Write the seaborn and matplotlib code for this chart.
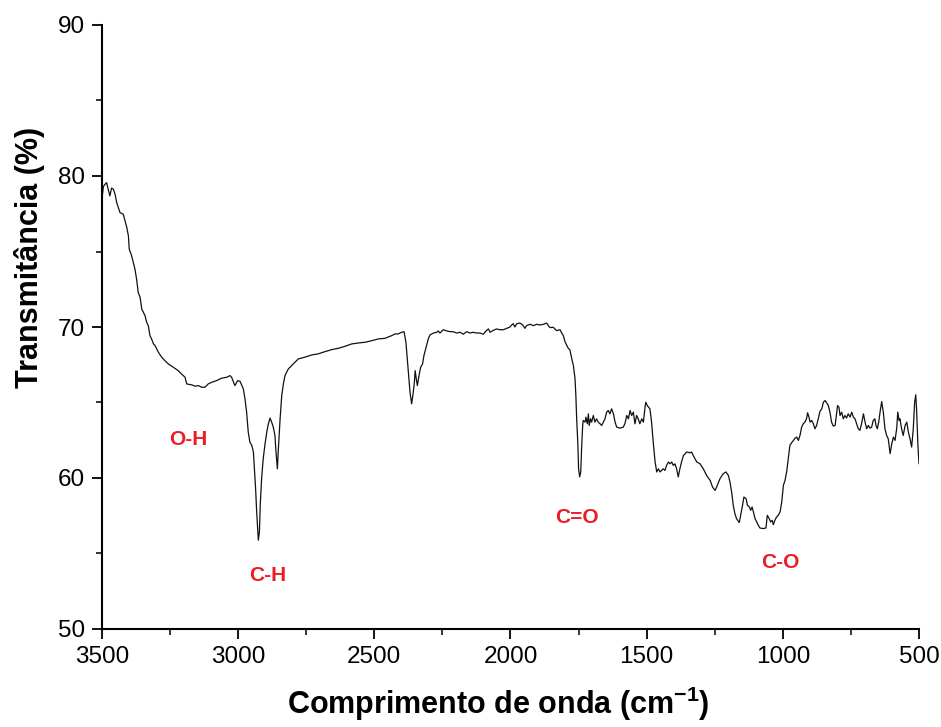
import matplotlib
matplotlib.use("Agg")
import matplotlib.pyplot as plt
from matplotlib.ticker import MultipleLocator
import numpy as np
import pandas as pd
import seaborn as sns

# FTIR spectrum, wavenumber (cm-1) vs transmittance (%), split by region
wn_oh = [3498, 3495, 3489, 3483, 3477, 3471, 3465, 3458, 3452, 3446,
         3434, 3422, 3409, 3403, 3400, 3391, 3379, 3373, 3367, 3360,
         3354, 3342, 3336, 3330, 3324, 3318, 3311, 3305, 3293, 3281,
         3269, 3256, 3238, 3220, 3208, 3195, 3189, 3171, 3158, 3146,
         3134, 3122, 3110, 3097, 3079, 3061, 3042, 3030, 3024, 3012,
         3002]
t_oh = [78.80, 79.30, 79.45, 79.56, 79.10, 78.68, 79.20, 79.12, 78.79, 78.24,
        77.58, 77.47, 76.59, 76.03, 75.16, 74.71, 73.83, 73.17, 72.29, 71.96,
        71.19, 70.75, 70.31, 70.09, 69.43, 69.21, 68.88, 68.76, 68.33, 68.00,
        67.77, 67.55, 67.33, 67.11, 66.89, 66.67, 66.23, 66.17, 66.08, 66.12,
        66.01, 66.01, 66.23, 66.34, 66.45, 66.61, 66.67, 66.78, 66.67, 66.12,
        66.45]

wn_ch = [2993, 2987, 2981, 2975, 2969, 2963, 2957, 2950, 2944, 2941,
         2936, 2932, 2928, 2926, 2922, 2919, 2914, 2908, 2902, 2895,
         2889, 2883, 2877, 2871, 2865, 2861, 2856, 2853, 2846, 2840,
         2834, 2828]
t_ch = [66.40, 66.15, 65.90, 65.24, 64.36, 63.04, 62.38, 62.16, 61.72, 60.83,
        59.29, 57.75, 56.43, 55.88, 56.43, 58.19, 59.95, 61.28, 62.16, 63.04,
        63.59, 63.97, 63.70, 63.37, 62.82, 61.72, 60.61, 61.72, 63.92, 65.46,
        66.23, 66.78]

wn_base = [2816, 2804, 2791, 2779, 2755, 2730, 2706, 2681, 2657, 2632,
           2608, 2583, 2559, 2534, 2510, 2485, 2461, 2436, 2424, 2412,
           2400, 2391]
t_base = [67.22, 67.44, 67.67, 67.89, 68.00, 68.15, 68.22, 68.37, 68.50, 68.59,
          68.72, 68.88, 68.94, 68.99, 69.09, 69.21, 69.25, 69.43, 69.54, 69.54,
          69.65, 69.69]

wn_co2 = [2384, 2379, 2374, 2369, 2363, 2357, 2353, 2350, 2346, 2342,
          2336, 2330, 2323, 2318, 2310, 2302, 2296, 2283, 2271, 2265,
          2259, 2247, 2234, 2222, 2210, 2198, 2185, 2173, 2161, 2149,
          2137, 2124, 2112, 2100, 2090, 2081, 2075, 2063, 2051, 2039,
          2026, 2014, 2002, 1996, 1990, 1984, 1977, 1965, 1955, 1947,
          1941, 1928, 1916, 1904, 1892, 1879, 1867, 1861, 1855, 1843,
          1831, 1818]
t_co2 = [68.99, 67.89, 66.78, 65.68, 64.91, 65.68, 66.34, 67.11, 66.56, 66.12,
         66.78, 67.33, 67.55, 68.10, 68.66, 69.21, 69.47, 69.60, 69.65, 69.74,
         69.60, 69.82, 69.74, 69.69, 69.69, 69.60, 69.65, 69.52, 69.69, 69.60,
         69.65, 69.60, 69.60, 69.52, 69.74, 69.87, 69.65, 69.78, 69.87, 69.82,
         69.82, 69.91, 70.00, 70.13, 70.22, 70.00, 70.22, 70.26, 70.13, 69.91,
         70.09, 70.18, 70.09, 70.18, 70.13, 70.18, 70.26, 70.09, 69.96, 69.98,
         69.76, 69.82]

wn_carbonyl = [1812, 1806, 1800, 1794, 1788, 1782, 1775, 1769, 1763, 1760,
               1757, 1753, 1750, 1746, 1742, 1739, 1735, 1733, 1726, 1723,
               1718, 1714, 1711, 1706, 1702, 1696, 1690, 1684, 1678, 1671,
               1665, 1659, 1653, 1647, 1641, 1635, 1629, 1622, 1616, 1610,
               1598, 1586, 1580, 1573, 1567, 1561, 1555, 1549, 1543, 1537,
               1531, 1525, 1518, 1512, 1506]
t_carbonyl = [69.60, 69.43, 69.03, 68.81, 68.59, 68.50, 67.89, 67.44, 66.56, 65.46,
              63.92, 62.38, 60.61, 60.07, 60.40, 61.94, 63.48, 63.81, 63.70, 64.03,
              63.59, 64.25, 63.48, 63.92, 63.70, 64.14, 63.70, 63.92, 63.70, 63.59,
              63.48, 63.70, 63.92, 64.36, 64.47, 64.25, 64.58, 64.25, 63.70, 63.37,
              63.30, 63.37, 63.59, 64.14, 63.92, 64.47, 64.14, 64.36, 63.59, 64.14,
              63.92, 63.59, 63.92, 63.70, 64.69]

wn_mid = [1503, 1498, 1493, 1488, 1482, 1476, 1469, 1463, 1457, 1451,
          1445, 1439, 1433, 1427, 1420, 1414, 1408, 1402, 1396, 1390,
          1384, 1378, 1372, 1365, 1353, 1341, 1335, 1329, 1316, 1304,
          1292, 1280, 1267, 1258, 1249, 1243, 1231, 1219, 1209, 1200,
          1194, 1188, 1182, 1176, 1170, 1160]
t_mid = [65.02, 64.80, 64.69, 64.58, 63.70, 62.38, 61.06, 60.40, 60.61, 60.40,
         60.50, 60.61, 60.50, 60.83, 61.06, 60.94, 61.06, 60.83, 60.94, 60.61,
         60.07, 60.61, 61.06, 61.49, 61.72, 61.67, 61.72, 61.49, 61.06, 60.94,
         60.61, 60.17, 59.84, 59.40, 59.18, 59.40, 59.95, 60.28, 60.40, 60.17,
         59.73, 59.07, 58.19, 57.64, 57.31, 57.05]

wn_ester = [1155, 1148, 1143, 1135, 1130, 1123, 1118, 1113, 1108, 1102,
            1096, 1090, 1084, 1072, 1062, 1057, 1050, 1045, 1039, 1035,
            1029, 1023, 1017, 1010, 1004, 998, 992, 986, 980, 974,
            968, 961, 955, 949]
t_ester = [57.53, 58.19, 58.74, 58.63, 58.19, 58.08, 57.86, 58.08, 57.75, 57.31,
           57.09, 56.87, 56.69, 56.65, 56.69, 57.53, 57.31, 57.09, 57.20, 56.91,
           57.20, 57.42, 57.53, 57.75, 58.41, 59.51, 59.84, 60.40, 61.28, 62.16,
           62.33, 62.49, 62.64, 62.71]

wn_tail = [943, 937, 931, 925, 919, 913, 909, 904, 900, 894,
           888, 882, 876, 870, 864, 857, 851, 845, 839, 833,
           827, 821, 815, 808, 802, 799, 794, 790, 784, 778,
           772, 766, 760, 753, 747, 741, 735, 729, 723, 717,
           711, 704, 698, 692, 686, 680, 674, 668, 662, 658,
           653, 648, 643, 637, 631, 625, 619, 613, 606, 600,
           594, 588, 582, 578, 573, 570, 564, 558, 551, 545,
           539, 533, 527, 521, 516, 512, 509, 504, 500]
t_tail = [62.49, 62.82, 63.37, 63.59, 63.70, 63.92, 64.32, 64.03, 63.70, 63.81,
          63.59, 63.26, 63.48, 63.92, 64.40, 64.58, 65.02, 65.13, 64.98, 64.80,
          64.36, 63.70, 63.44, 63.48, 64.36, 64.80, 64.69, 64.14, 64.36, 63.92,
          64.14, 63.97, 64.25, 64.03, 64.36, 64.03, 63.92, 63.59, 63.26, 63.15,
          63.59, 64.25, 63.70, 63.26, 63.48, 63.30, 63.37, 63.81, 63.92, 63.48,
          63.26, 63.70, 64.36, 65.06, 64.36, 63.26, 62.82, 62.60, 61.61, 62.27,
          62.71, 62.49, 63.26, 64.36, 63.81, 63.92, 63.26, 62.82, 63.48, 63.70,
          63.04, 62.60, 62.05, 63.26, 65.02, 65.51, 64.58, 62.16, 60.94]

# Band assignments: label, wavenumber, transmittance where the label sits
band_labels = ["O-H", "C-H", "C=O", "C-O"]
band_wn = [3182, 2890, 1756, 1008]
band_t = [62.56, 53.54, 57.36, 54.40]

x_ticks = [3500, 3000, 2500, 2000, 1500, 1000, 500]
y_ticks = [50, 60, 70, 80, 90]

wavenumber = wn_oh + wn_ch + wn_base + wn_co2 + wn_carbonyl + wn_mid + wn_ester + wn_tail
transmittance = t_oh + t_ch + t_base + t_co2 + t_carbonyl + t_mid + t_ester + t_tail
spectrum = pd.DataFrame({"wavenumber": wavenumber, "transmittance": transmittance})

sns.set_theme(style="ticks")
plt.rcParams["font.family"] = ["Liberation Sans", "DejaVu Sans"]
plt.rcParams["mathtext.fontset"] = "custom"
plt.rcParams["mathtext.rm"] = "Liberation Sans:bold"
plt.rcParams["mathtext.it"] = "Liberation Sans:bold"
plt.rcParams["mathtext.bf"] = "Liberation Sans:bold"
plt.rcParams["text.color"] = "black"
plt.rcParams["axes.labelcolor"] = "black"

W, H = 941, 727
fig = plt.figure(figsize=(W / 100, H / 100), dpi=100)
ax = fig.add_axes([102 / W, 1 - 629 / H, 817 / W, 604 / H])

sns.lineplot(data=spectrum, x="wavenumber", y="transmittance", ax=ax,
             sort=False, estimator=None, color="#111111", linewidth=0.9)

ax.set_xlim(3500, 500)
ax.set_ylim(50, 90)
ax.set_xticks(x_ticks)
ax.set_yticks(y_ticks)
ax.xaxis.set_minor_locator(MultipleLocator(250))
ax.yaxis.set_minor_locator(MultipleLocator(5))

for side in ("top", "right"):
    ax.spines[side].set_visible(False)
for side in ("left", "bottom"):
    ax.spines[side].set_linewidth(1.5)
    ax.spines[side].set_color("black")

ax.tick_params(axis="both", which="major", direction="out", length=7.5, width=1.3,
               labelsize=17.5, colors="black", labelcolor="black")
ax.tick_params(axis="x", which="major", pad=5)
ax.tick_params(axis="y", which="major", pad=5)
ax.tick_params(axis="both", which="minor", direction="out", length=4, width=1.1,
               colors="black")

ax.set_xlabel("Comprimento de onda (cm$^{-1}$)", fontsize=22, fontweight="bold",
              color="black")
ax.set_ylabel("Transmitância (%)", fontsize=22, fontweight="bold", color="black")
ax.xaxis.set_label_coords((498.5 - 102) / 817, (629 - 704) / 604)
ax.xaxis.label.set_va("center")
ax.yaxis.set_label_coords((30 - 102) / 817, (629 - 257.5) / 604)
ax.yaxis.label.set_va("center")

for label, x, y in zip(band_labels, band_wn, band_t):
    ax.text(x, y, label, color="#ED1C24", fontsize=15, fontweight="bold",
            ha="center", va="center")

fig.savefig("out.png", dpi=100)
